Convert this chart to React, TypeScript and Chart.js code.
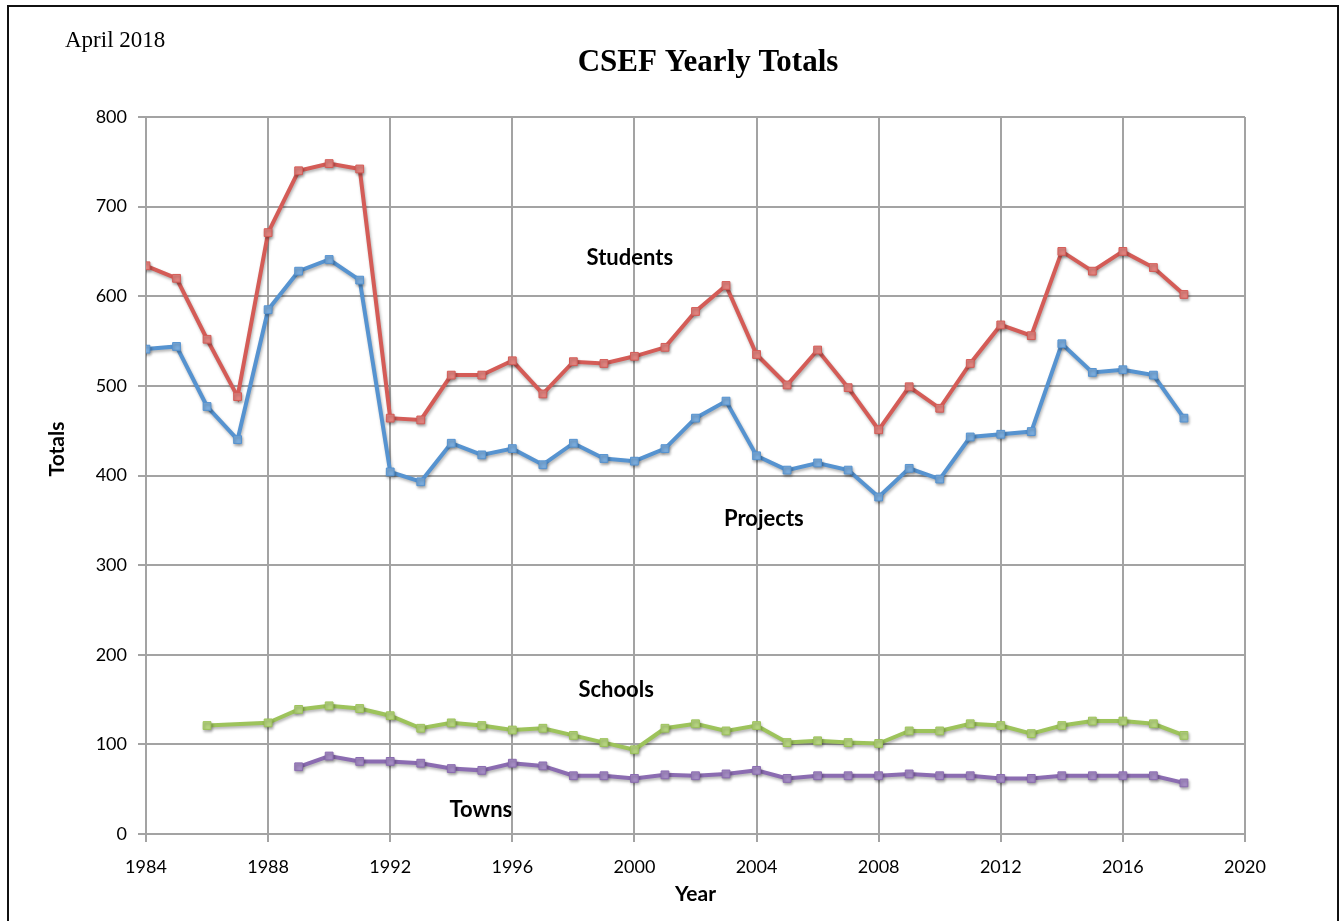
import React, { useEffect, useRef } from "react";
import { Chart, registerables } from "chart.js";
Chart.register(...registerables);

const mainYears = [1984, 1985, 1986, 1987, 1988, 1989, 1990, 1991, 1992, 1993, 1994, 1995, 1996, 1997, 1998, 1999, 2000, 2001, 2002, 2003, 2004, 2005, 2006, 2007, 2008, 2009, 2010, 2011, 2012, 2013, 2014, 2015, 2016, 2017, 2018];
const students = [634, 620, 552, 488, 671, 740, 748, 742, 464, 462, 512, 512, 528, 491, 527, 525, 533, 543, 583, 612, 535, 501, 540, 498, 451, 499, 475, 525, 568, 556, 650, 628, 650, 632, 602];
const projects = [541, 544, 477, 440, 585, 628, 641, 618, 404, 393, 436, 423, 430, 412, 436, 419, 416, 430, 464, 483, 422, 406, 414, 406, 376, 408, 396, 443, 446, 449, 547, 515, 518, 512, 464];
const schoolYears = [1986, 1988, 1989, 1990, 1991, 1992, 1993, 1994, 1995, 1996, 1997, 1998, 1999, 2000, 2001, 2002, 2003, 2004, 2005, 2006, 2007, 2008, 2009, 2010, 2011, 2012, 2013, 2014, 2015, 2016, 2017, 2018];
const schools = [121, 124, 139, 143, 140, 132, 118, 124, 121, 116, 118, 110, 102, 94, 118, 123, 115, 121, 102, 104, 102, 101, 115, 115, 123, 121, 112, 121, 126, 126, 123, 110];
const townYears = [1989, 1990, 1991, 1992, 1993, 1994, 1995, 1996, 1997, 1998, 1999, 2000, 2001, 2002, 2003, 2004, 2005, 2006, 2007, 2008, 2009, 2010, 2011, 2012, 2013, 2014, 2015, 2016, 2017, 2018];
const towns = [75, 87, 81, 81, 79, 73, 71, 79, 76, 65, 65, 62, 66, 65, 67, 71, 62, 65, 65, 65, 67, 65, 65, 62, 62, 65, 65, 65, 65, 57];
const xTicks = [1984, 1988, 1992, 1996, 2000, 2004, 2008, 2012, 2016, 2020];
const yTicks = [0, 100, 200, 300, 400, 500, 600, 700, 800];

const seriesNames = ["Students", "Projects", "Schools", "Towns"];
const seriesLabelAnchors = [
  { x: 1999.85, y: 643 },
  { x: 2004.24, y: 352 },
  { x: 1999.4, y: 161 },
  { x: 1994.97, y: 27 },
];

const toPoints = (xs: number[], ys: number[]) => xs.map((x, i) => ({ x, y: ys[i] }));

const decorPlugin = {
  id: "decor",
  beforeDatasetDraw(chart: any) {
    const ctx = chart.ctx;
    ctx.save();
    ctx.shadowColor = "rgba(0,0,0,0.3)";
    ctx.shadowBlur = 3;
    ctx.shadowOffsetX = 1;
    ctx.shadowOffsetY = 2;
  },
  afterDatasetDraw(chart: any) {
    chart.ctx.restore();
  },
  afterDraw(chart: any) {
    const ctx = chart.ctx;
    ctx.save();
    ctx.strokeStyle = "#111";
    ctx.lineWidth = 2;
    ctx.strokeRect(8, 6, 1330, 960);
    ctx.fillStyle = "#000";
    ctx.textAlign = "left";
    ctx.textBaseline = "alphabetic";
    ctx.font = '23px "Liberation Serif"';
    ctx.fillText("April 2018", 65, 47);
    ctx.textAlign = "center";
    ctx.font = 'bold 31px "Liberation Serif"';
    ctx.fillText("CSEF Yearly Totals", 708, 71);
    ctx.font = "bold 22px Lato";
    ctx.textBaseline = "middle";
    const xs = chart.scales.x;
    const ys = chart.scales.y;
    seriesNames.forEach((name, i) => {
      const a = seriesLabelAnchors[i];
      ctx.fillText(name, xs.getPixelForValue(a.x), ys.getPixelForValue(a.y));
    });
    // y-axis title
    ctx.save();
    ctx.translate(57, 449);
    ctx.rotate(-Math.PI / 2);
    ctx.font = "bold 21px Lato";
    ctx.fillText("Totals", 0, 0);
    ctx.restore();
    ctx.restore();
  },
};

export default function App() {
  const ref = useRef<HTMLCanvasElement>(null);
  useEffect(() => {
    document.body.style.margin = "0";
    document.body.style.overflow = "hidden";
    const mk = (label: string, data: any[], color: string, pointColor: string) => ({
      label,
      data,
      borderColor: color,
      backgroundColor: pointColor,
      borderWidth: 4,
      pointStyle: "rect",
      pointRadius: 5.5,
      pointBorderWidth: 1,
      pointBorderColor: color,
      pointBackgroundColor: pointColor,
      tension: 0,
    });
    const chart = new Chart(ref.current!, {
      type: "line",
      data: {
        datasets: [
          mk("Students", toPoints(mainYears, students), "#d45c57", "#e2837e"),
          mk("Projects", toPoints(mainYears, projects), "#5693d0", "#7aacdd"),
          mk("Schools", toPoints(schoolYears, schools), "#9dc35b", "#b6d57f"),
          mk("Towns", toPoints(townYears, towns), "#8b6cb1", "#a58cc5"),
        ] as any,
      },
      options: {
        animation: false,
        responsive: false,
        maintainAspectRatio: false,
        layout: { padding: { top: 117, right: 95, left: 0, bottom: 0 } },
        plugins: {
          legend: { display: false },
          tooltip: { enabled: false },
          title: { display: false },
        },
        scales: {
          x: {
            type: "linear",
            min: 1984,
            max: 2020,
            afterBuildTicks: (s: any) => {
              s.ticks = xTicks.map((v) => ({ value: v }));
            },
            afterFit: (s: any) => {
              s.height = 87;
            },
            ticks: {
              callback: (v: any) => String(v),
              color: "#000",
              font: { family: "Lato", size: 18 },
              padding: 14,
              maxRotation: 0,
              autoSkip: false,
            },
            grid: { color: "#a3a3a3", lineWidth: 2, tickLength: 8 },
            border: { color: "#a3a3a3", width: 2 },
            title: {
              display: true,
              text: "Year",
              color: "#000",
              font: { family: "Lato", size: 21, weight: "bold" },
              padding: { top: 0, bottom: 14 },
            },
          },
          y: {
            type: "linear",
            min: 0,
            max: 800,
            afterBuildTicks: (s: any) => {
              s.ticks = yTicks.map((v) => ({ value: v }));
            },
            afterFit: (s: any) => {
              s.width = 146;
            },
            ticks: {
              color: "#000",
              font: { family: "Lato", size: 18 },
              padding: 11,
            },
            grid: { color: "#a3a3a3", lineWidth: 2, tickLength: 8 },
            border: { color: "#a3a3a3", width: 2 },
            title: { display: false },
          },
        },
      },
      plugins: [decorPlugin],
    } as any);
    return () => chart.destroy();
  }, []);
  return (
    <div style={{ width: 1340, height: 921, background: "#fff" }}>
      <canvas ref={ref} width={1340} height={921} style={{ display: "block" }} />
    </div>
  );
}
